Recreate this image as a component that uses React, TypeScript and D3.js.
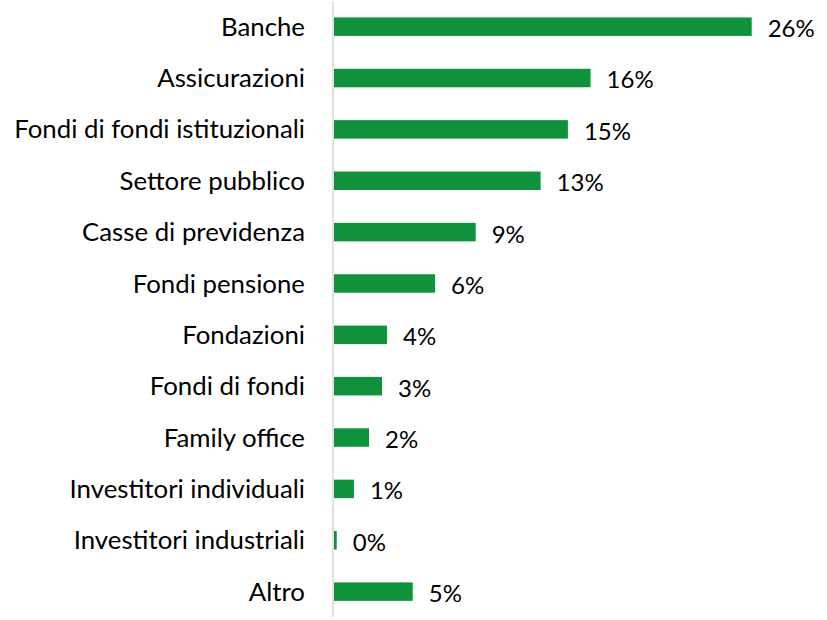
import React from "react";
import * as d3 from "d3";

const categories = [
  "Banche",
  "Assicurazioni",
  "Fondi di fondi istituzionali",
  "Settore pubblico",
  "Casse di previdenza",
  "Fondi pensione",
  "Fondazioni",
  "Fondi di fondi",
  "Family office",
  "Investitori individuali",
  "Investitori industriali",
  "Altro",
];
const values = [26.0, 15.97, 14.56, 12.86, 8.82, 6.29, 3.3, 2.99, 2.18, 1.24, 0.17, 4.9];
const valueLabels = ["26%", "16%", "15%", "13%", "9%", "6%", "4%", "3%", "2%", "1%", "0%", "5%"];

const W = 827;
const H = 620;
const axisX = 333;
const FONT = "Lato, 'Open Sans', sans-serif";

export default function App() {
  const x = d3.scaleLinear().domain([0, 26]).range([axisX + 1, 751.7]);
  const y = d3
    .scaleBand<string>()
    .domain(categories)
    .range([1, 617.3])
    .paddingInner(0.64)
    .paddingOuter(0.32);

  return (
    <svg
      width={W}
      height={H}
      style={{ position: "absolute", left: 0, top: 0, background: "#fff" }}
    >
      {categories.map((c, i) => {
        const yc = (y(c) as number) + y.bandwidth() / 2;
        return (
          <g key={c}>
            <rect
              x={x(0)}
              y={y(c)}
              width={x(values[i]) - x(0)}
              height={y.bandwidth()}
              fill="#10923c"
            />
            <text
              x={axisX - 28}
              y={yc}
              dy="0.35em"
              textAnchor="end"
              fontFamily={FONT}
              fontSize={25.8}
              fill="#000"
            >
              {c}
            </text>
            <text
              x={x(values[i]) + 16}
              y={yc + 2}
              dy="0.35em"
              textAnchor="start"
              fontFamily={FONT}
              fontSize={24}
              fill="#000"
            >
              {valueLabels[i]}
            </text>
          </g>
        );
      })}
      <line x1={axisX} x2={axisX} y1={1} y2={617} stroke="#d9d9d9" strokeWidth={1.5} />
    </svg>
  );
}
